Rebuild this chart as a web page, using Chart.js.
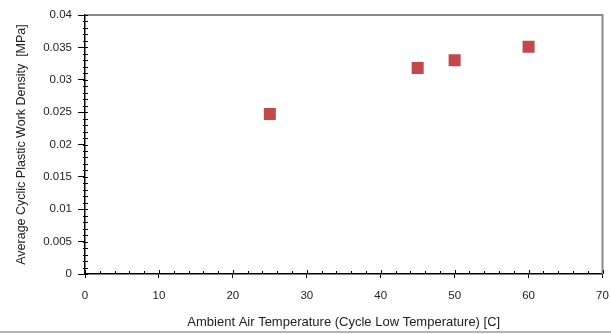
<!DOCTYPE html>
<html>
<head>
<meta charset="utf-8">
<script src="https://cdn.jsdelivr.net/npm/chart.js@4"></script>
<style>
    body { margin: 0; background: #fff; overflow: hidden; }
    #wrap { width: 611px; height: 334px; position: relative; }
</style>
</head>
<body>
<div id="wrap"><canvas id="chart" width="611" height="334"></canvas></div>
<script>
const temperatures = [25, 45, 50, 60];
const workDensity = [0.0247, 0.0318, 0.0330, 0.0351];
const xTicks = [0, 10, 20, 30, 40, 50, 60, 70];
const yTicks = [0, 0.005, 0.01, 0.015, 0.02, 0.025, 0.03, 0.035, 0.04];

const xTitle = 'Ambient Air Temperature (Cycle Low Temperature) [C]';
const yTitle = 'Average Cyclic Plastic Work Density  [MPa]';

// minor ticks, frame and the bottom rule
const decorations = {
    id: 'decorations',
    afterDraw(chart) {
        const ctx = chart.ctx;
        const area = chart.chartArea;
        const xs = chart.scales.x;
        const ys = chart.scales.y;
        ctx.save();
        // gray frame top + right
        ctx.strokeStyle = '#8a8a8a';
        ctx.lineWidth = 2;
        ctx.beginPath();
        ctx.moveTo(area.left, area.top);
        ctx.lineTo(area.right, area.top);
        ctx.lineTo(area.right, area.bottom);
        ctx.stroke();

        ctx.strokeStyle = '#000';
        ctx.lineWidth = 1;
        ctx.beginPath();
        for (let v = 0; v <= 70; v += 2) {
            const px = Math.round(xs.getPixelForValue(v)) + 0.5;
            const len = v % 10 === 0 ? 4 : 3;
            ctx.moveTo(px, area.bottom);
            ctx.lineTo(px, area.bottom - len);
        }
        for (let i = 0; i <= 40; i++) {
            const py = Math.round(ys.getPixelForValue(i / 1000)) + 0.5;
            ctx.moveTo(area.left - 2, py);
            ctx.lineTo(area.left + 3, py);
        }
        ctx.stroke();

        // light rule near bottom edge
        ctx.strokeStyle = '#b4b4b4';
        ctx.lineWidth = 2;
        ctx.beginPath();
        ctx.moveTo(0, 332);
        ctx.lineTo(chart.width, 332);
        ctx.stroke();
        ctx.restore();
    }
};

new Chart(document.getElementById('chart').getContext('2d'), {
    type: 'scatter',
    data: {
        datasets: [{
            data: temperatures.map((t, i) => ({ x: t, y: workDensity[i] })),
            backgroundColor: '#c4484a',
            borderColor: '#c4484a',
            borderWidth: 0,
            pointStyle: 'rect',
            pointRadius: 8.5,
            pointHoverRadius: 8.5
        }]
    },
    options: {
        responsive: false,
        animation: false,
        layout: { padding: { top: 15, left: 0, right: 0, bottom: 0 } },
        plugins: {
            legend: { display: false },
            tooltip: { enabled: false }
        },
        scales: {
            x: {
                type: 'linear',
                min: 0,
                max: 70,
                afterBuildTicks: s => { s.ticks = xTicks.map(v => ({ value: v })); },
                afterFit: s => {
                    s.height = 60;
                    s.paddingLeft = 0;
                    s.paddingRight = 6;
                },
                grid: { drawOnChartArea: false, tickLength: 4, color: '#000' },
                border: { color: '#000', width: 1.5 },
                ticks: {
                    color: '#222',
                    font: { family: 'Liberation Sans', size: 11.5 },
                    padding: 11,
                    maxRotation: 0
                },
                title: {
                    display: true,
                    text: xTitle,
                    color: '#222',
                    font: { family: 'Liberation Sans', size: 13 },
                    padding: { top: 0, bottom: 4 }
                }
            },
            y: {
                type: 'linear',
                min: 0,
                max: 0.04,
                afterBuildTicks: s => { s.ticks = yTicks.map(v => ({ value: v })); },
                afterFit: s => {
                    s.width = 85;
                    s.paddingTop = 0;
                    s.paddingBottom = 0;
                },
                grid: { drawOnChartArea: false, tickLength: 7, color: '#000' },
                border: { color: '#000', width: 1.5 },
                ticks: {
                    color: '#222',
                    font: { family: 'Liberation Sans', size: 11.5 },
                    padding: 6,
                    callback: v => String(+v.toFixed(3))
                },
                title: {
                    display: true,
                    text: yTitle,
                    color: '#222',
                    font: { family: 'Liberation Sans', size: 12.5 },
                    padding: { top: 14, bottom: 0 }
                }
            }
        }
    },
    plugins: [decorations]
});
</script>
</body>
</html>
